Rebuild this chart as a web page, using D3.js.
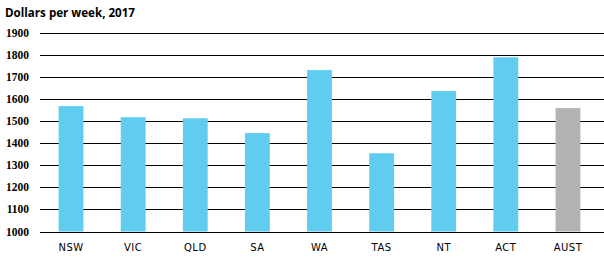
<!DOCTYPE html>
<html>
<head>
<meta charset="utf-8">
<script src="https://cdn.jsdelivr.net/npm/d3@7"></script>
<style>
  body { margin: 0; background: #fff; }
  svg { display: block; }
</style>
</head>
<body>
<script>
var regions = ['NSW', 'VIC', 'QLD', 'SA', 'WA', 'TAS', 'NT', 'ACT', 'AUST'];
var earnings = [1567, 1517, 1512, 1445, 1730, 1354, 1635, 1788, 1558];
var yTicks = [1000, 1100, 1200, 1300, 1400, 1500, 1600, 1700, 1800, 1900];
var title = 'Dollars per week, 2017';

var width = 604, height = 265;

var svg = d3.select('body')
	.append('svg')
	.attr('width', width)
	.attr('height', height);

svg.append('text')
	.attr('x', 5)
	.attr('y', 16.5)
	.style('font-family', 'Open Sans, sans-serif')
	.style('font-weight', 'bold')
	.style('font-size', '11.6px')
	.attr('fill', '#000')
	.text(title);

var x = d3.scaleBand()
	.domain(regions)
	.range([40, 599])
	.paddingInner(0.6)
	.paddingOuter(0.3);

var y = d3.scaleLinear()
	.domain([1000, 1900])
	.range([231.5, 32.5]);

// gridlines
svg.append('g')
	.selectAll('line')
	.data(yTicks)
	.enter()
	.append('line')
	.attr('x1', 40)
	.attr('x2', 604)
	.attr('y1', function(d){return Math.round(y(d)) + 0.5})
	.attr('y2', function(d){return Math.round(y(d)) + 0.5})
	.attr('stroke', '#000')
	.attr('stroke-width', 1.2);

// y labels
svg.append('g')
	.selectAll('text')
	.data(yTicks)
	.enter()
	.append('text')
	.attr('x', 29)
	.attr('y', function(d){return y(d)})
	.attr('dy', '0.35em')
	.attr('text-anchor', 'end')
	.style('font-family', 'Liberation Serif, serif')
	.style('font-weight', 'bold')
	.style('font-size', '11.5px')
	.text(function(d){return d});

// bars
svg.append('g')
	.selectAll('rect')
	.data(earnings)
	.enter()
	.append('rect')
	.attr('x', function(d,i){return x(regions[i])})
	.attr('width', x.bandwidth())
	.attr('y', function(d){return y(d)})
	.attr('height', function(d){return y(1000) - y(d)})
	.attr('fill', function(d,i){return regions[i] === 'AUST' ? '#b3b3b4' : '#60cdf0'});

// baseline redrawn over bars
svg.append('line')
	.attr('x1', 40)
	.attr('x2', 604)
	.attr('y1', Math.round(y(1000)) + 0.5)
	.attr('y2', Math.round(y(1000)) + 0.5)
	.attr('stroke', '#000')
	.attr('stroke-width', 1.2);

// x labels
svg.append('g')
	.selectAll('text')
	.data(regions)
	.enter()
	.append('text')
	.attr('x', function(d){return x(d) + x.bandwidth() / 2})
	.attr('y', 251)
	.attr('text-anchor', 'middle')
	.style('font-family', 'DejaVu Sans, sans-serif')
	.style('font-size', '10px')
	.style('letter-spacing', '0.5px')
	.text(function(d){return d});
</script>
</body>
</html>
